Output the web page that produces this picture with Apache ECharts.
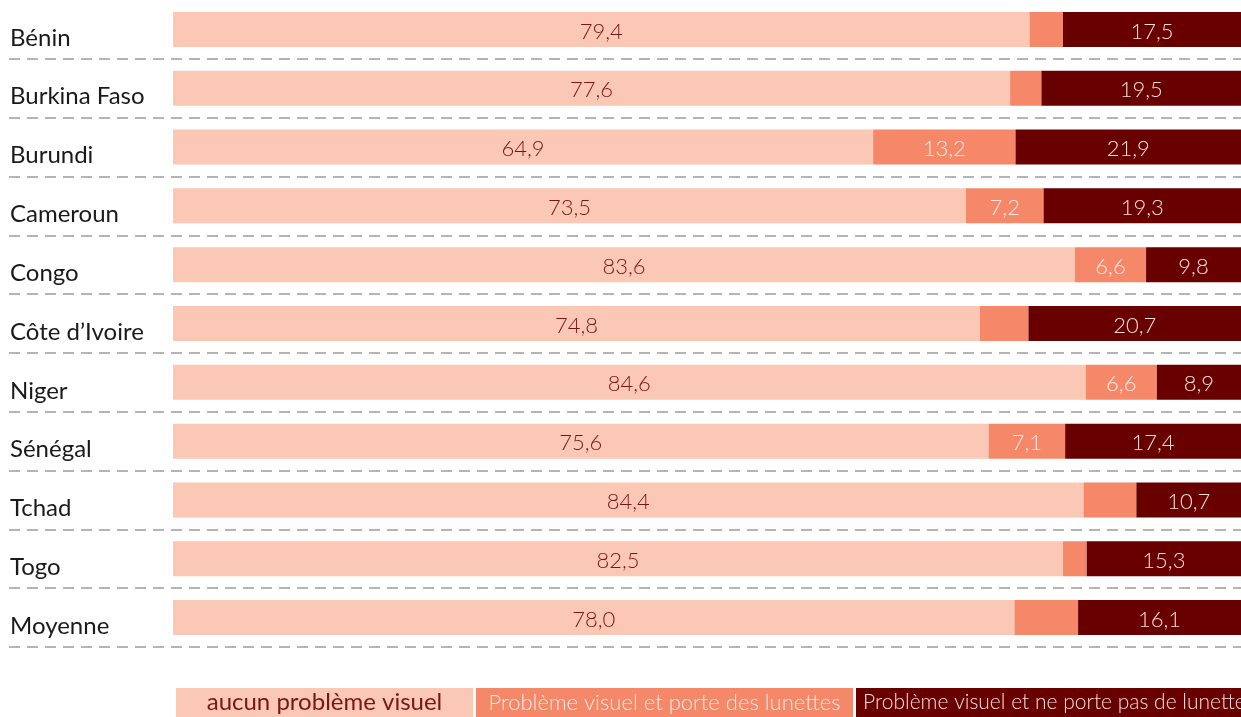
<!DOCTYPE html>
<html lang="fr">
<head>
    <meta charset="UTF-8">
    <title>Problèmes visuels par pays</title>
    <style type="text/css">
        html, body { margin: 0; padding: 0; background: #fff; }
        #chart { width: 1241px; height: 717px; }
    </style>
</head>
<body>
<div id="chart"></div>
<script src="https://cdn.jsdelivr.net/npm/echarts@6.0.0/dist/echarts.min.js"></script>
<script>
    // pays + moyenne
    var countries = ['Bénin', 'Burkina Faso', 'Burundi', 'Cameroun', 'Congo', 'Côte d\u2019Ivoire',
        'Niger', 'Sénégal', 'Tchad', 'Togo', 'Moyenne'];
    var seriesNames = ['aucun problème visuel', 'Problème visuel et porte des lunettes',
        'Problème visuel et ne porte pas de lunettes'];
    var aucun = [79.4, 77.6, 64.9, 73.5, 83.6, 74.8, 84.6, 75.6, 84.4, 82.5, 78.0];
    var avecLunettes = [3.1, 2.9, 13.2, 7.2, 6.6, 4.5, 6.6, 7.1, 4.9, 2.2, 5.9];
    var sansLunettes = [17.5, 19.5, 21.9, 19.3, 9.8, 20.7, 8.9, 17.4, 10.7, 15.3, 16.1];

    var colors = ['#fac8b4', '#f58869', '#680000'];
    var labelColors = ['#7a1515', '#fdeae3', '#f7dede'];

    function fmt(v) {
        return v.toFixed(1).replace('.', ',');
    }

    var myChart = echarts.init(document.getElementById('chart'));

    var dash = {color: '#b4b4b4', width: 2, type: [11, 7]};

    function barSeries(i, data, minShow) {
        return {
            name: seriesNames[i],
            type: 'bar',
            stack: 'total',
            barWidth: 35,
            data: data,
            itemStyle: {color: colors[i]},
            label: {
                show: true,
                position: 'inside',
                offset: [0, 2],
                color: labelColors[i],
                fontFamily: 'Lato',
                fontWeight: 300,
                fontSize: 22,
                formatter: function (p) {
                    return p.value >= minShow ? fmt(p.value) : '';
                }
            },
            emphasis: {disabled: true}
        };
    }

    // le graphique d'origine est coupé à droite : l'axe s'arrête vers 99
    var option = {
        animation: false,
        grid: [
            {left: 173, top: 0, right: 0, height: 647},
            {left: 9, top: 0, right: 0, height: 647}
        ],
        xAxis: [
            {type: 'value', gridIndex: 0, min: 0, max: 99, show: false},
            {type: 'value', gridIndex: 1, min: 0, max: 100, show: false}
        ],
        yAxis: [
            {
                type: 'category', gridIndex: 0, inverse: true, data: countries,
                axisLine: {show: false}, axisTick: {show: false}, splitLine: {show: false},
                axisLabel: {
                    align: 'left', margin: 163,
                    formatter: function (v) { return '{c|' + v + '}'; },
                    rich: {
                        c: {color: '#1a1a1a', fontFamily: 'Lato', fontSize: 24, padding: [17, 0, 0, 0]}
                    }
                }
            },
            {
                type: 'category', gridIndex: 1, inverse: true, data: countries,
                axisLine: {show: false}, axisTick: {show: false}, axisLabel: {show: false},
                splitLine: {
                    show: true, lineStyle: dash,
                    interval: function (index) { return index !== 0; }
                }
            }
        ],
        legend: {
            left: 171, top: 688, width: 1400, padding: 0,
            itemWidth: 0, itemHeight: 0, itemGap: -2,
            selectedMode: false,
            icon: 'none',
            data: seriesNames,
            formatter: function (name) {
                return '{s' + seriesNames.indexOf(name) + '|' + name + '}';
            },
            textStyle: {
                fontFamily: 'Lato',
                rich: {
                    s0: {width: 297, height: 29, lineHeight: 29, align: 'center', fontSize: 24,
                        backgroundColor: colors[0], color: labelColors[0], fontFamily: 'Lato'},
                    s1: {width: 377, height: 29, lineHeight: 29, align: 'center', fontSize: 22, fontWeight: 300,
                        backgroundColor: colors[1], color: labelColors[1], fontFamily: 'Lato'},
                    s2: {width: 400, height: 29, lineHeight: 29, align: 'left', fontSize: 21, fontWeight: 300,
                        backgroundColor: colors[2], color: labelColors[2], fontFamily: 'Lato',
                        padding: [0, 0, 0, 7]}
                }
            }
        },
        series: [
            barSeries(0, aucun, 0),
            barSeries(1, avecLunettes, 6),
            barSeries(2, sansLunettes, 0)
        ]
    };
    myChart.setOption(option);
</script>
</body>
</html>
